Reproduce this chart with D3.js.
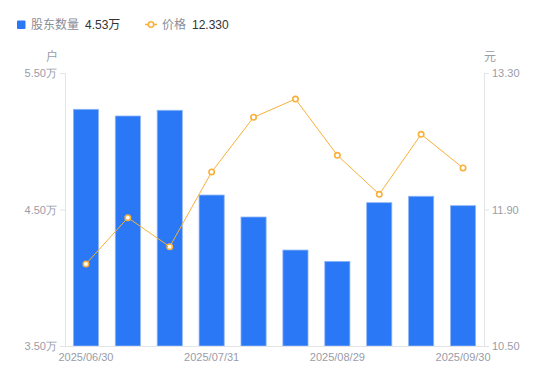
<!DOCTYPE html>
<html><head><meta charset="utf-8">
<script src="https://cdn.jsdelivr.net/npm/d3@7"></script>
<style>
html,body{margin:0;padding:0;background:#fff;}
svg{display:block;font-family:"Liberation Sans","Noto Sans CJK SC",sans-serif;}
</style></head>
<body>
<svg id="chart" width="550" height="381"></svg>
<script>
const dates = ["2025/06/30","2025/07/10","2025/07/20","2025/07/31","2025/08/10","2025/08/20","2025/08/29","2025/09/10","2025/09/19","2025/09/30"];
const holders = [5.234, 5.185, 5.227, 4.606, 4.445, 4.203, 4.120, 4.550, 4.597, 4.528];
const prices = [11.341, 11.816, 11.518, 12.285, 12.846, 13.033, 12.456, 12.056, 12.671, 12.326];
const leftTicks = [3.5, 4.5, 5.5];
const rightTicks = [10.5, 11.9, 13.3];
const shownDates = ["2025/06/30","2025/07/31","2025/08/29","2025/09/30"];
const legendHolder = "4.53万";
const legendPrice = "12.330";

const svg = d3.select("#chart");
const L = 65, R = 484, T = 73, B = 346;
const blue = "#2a78f5", orange = "#f9b03a";
const grey = "#9a9ca8", axisGrey = "#e3e4e8";

const x = d3.scaleBand().domain(dates).range([L, R]).paddingInner(0.4).paddingOuter(0.2);
const yL = d3.scaleLinear().domain([3.5, 5.5]).range([B, T]);
const yR = d3.scaleLinear().domain([10.5, 13.3]).range([B, T]);

// bars
svg.append("g").selectAll("rect").data(holders).join("rect")
  .attr("x", (d,i) => x(dates[i]))
  .attr("width", x.bandwidth())
  .attr("y", d => yL(d))
  .attr("height", d => B - yL(d))
  .attr("fill", blue)
  .attr("stroke", "#8fb6f7").attr("stroke-width", 0.8);

// axes
const gl = svg.append("g").attr("transform", `translate(${L},0)`)
  .call(d3.axisLeft(yL).tickValues(leftTicks).tickSize(5).tickPadding(3).tickFormat(d => d3.format(".2f")(d) + "万"));
const gr = svg.append("g").attr("transform", `translate(${R},0)`)
  .call(d3.axisRight(yR).tickValues(rightTicks).tickSize(5).tickPadding(3).tickFormat(d3.format(".2f")));
const gb = svg.append("g").attr("transform", `translate(0,${B})`)
  .call(d3.axisBottom(x).tickValues(shownDates).tickSize(0).tickPadding(7));
[gl, gr, gb].forEach(g => {
  g.select(".domain").attr("stroke", axisGrey);
  g.selectAll(".tick line").attr("stroke", axisGrey);
  g.selectAll("text").attr("fill", grey).attr("font-size", 11);
});
gb.select(".domain").attr("d", `M${L},0.5H${R}`);

// unit labels
svg.append("text").attr("x", 58).attr("y", 61).attr("text-anchor","end").attr("fill", grey).attr("font-size", 12).text("户");
svg.append("text").attr("x", 484).attr("y", 61).attr("fill", grey).attr("font-size", 12).text("元");

// price line
const cx = i => x(dates[i]) + x.bandwidth()/2;
svg.append("path").datum(prices)
  .attr("d", d3.line().x((d,i) => cx(i)).y(d => yR(d)))
  .attr("fill","none").attr("stroke", orange).attr("stroke-width", 1);
svg.append("g").selectAll("circle").data(prices).join("circle")
  .attr("cx", (d,i) => cx(i)).attr("cy", d => yR(d)).attr("r", 2.7)
  .attr("fill", "#fff").attr("stroke", orange).attr("stroke-width", 1.6);

// legend
const lg = svg.append("g");
lg.append("rect").attr("x", 17).attr("y", 20.5).attr("width", 8.5).attr("height", 8.5).attr("rx", 1).attr("fill", blue);
lg.append("text").attr("x", 31).attr("y", 29).attr("font-size", 12).attr("fill", "#8a8d98").text("股东数量");
lg.append("text").attr("x", 85).attr("y", 29).attr("font-size", 12).attr("fill", "#333").text(legendHolder);
lg.append("line").attr("x1", 145).attr("x2", 157).attr("y1", 24.5).attr("y2", 24.5).attr("stroke", orange).attr("stroke-width", 1.5);
lg.append("circle").attr("cx", 151).attr("cy", 24.5).attr("r", 2.7).attr("fill", "#fff").attr("stroke", orange).attr("stroke-width", 1.6);
lg.append("text").attr("x", 162).attr("y", 29).attr("font-size", 12).attr("fill", "#8a8d98").text("价格");
lg.append("text").attr("x", 192).attr("y", 29).attr("font-size", 12).attr("fill", "#333").text(legendPrice);
</script>
</body></html>
